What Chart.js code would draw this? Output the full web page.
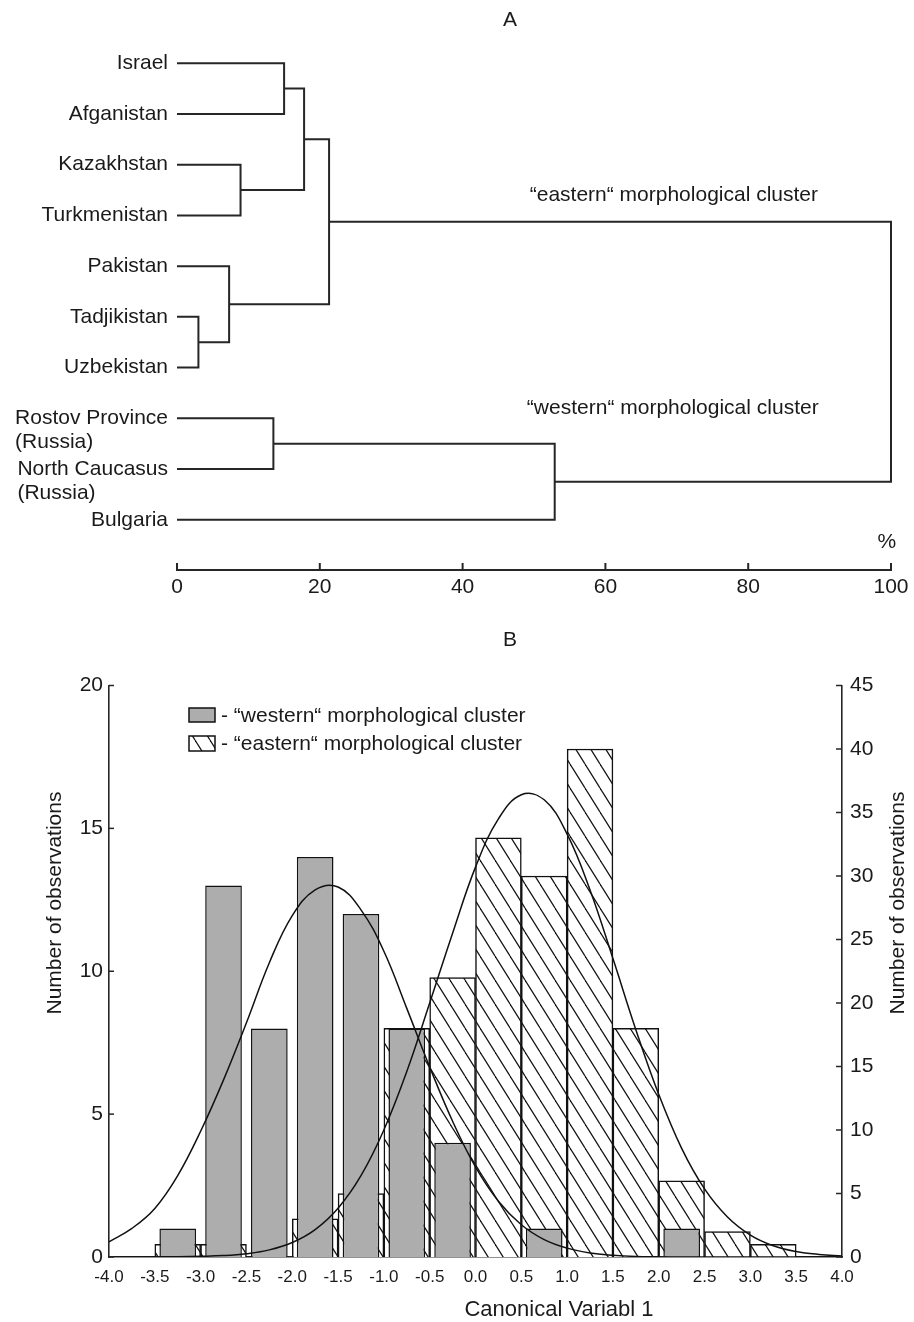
<!DOCTYPE html>
<html>
<head>
<meta charset="utf-8">
<script src="https://cdn.jsdelivr.net/npm/chart.js@4.4.0/dist/chart.umd.min.js"></script>
<style>
  html, body { margin: 0; padding: 0; background: #fff; }
  #wrap { position: relative; width: 914px; height: 1322px; }
  canvas { position: absolute; left: 0; }
  #chartA { top: 0; }
  #chartB { top: 620px; }
</style>
</head>
<body>
<div id="wrap">
  <canvas id="chartA" width="914" height="620"></canvas>
  <canvas id="chartB" width="914" height="702"></canvas>
</div>
<script>
// ---------- panel A: dendrogram ----------
const leaves = ['Israel', 'Afganistan', 'Kazakhstan', 'Turkmenistan', 'Pakistan',
  'Tadjikistan', 'Uzbekistan', 'Rostov Province', 'North Caucasus', 'Bulgaria'];
const leafNotes = ['', '', '', '', '', '', '', '(Russia)', '(Russia)', ''];
// every merge joins two nodes: leaves are 0..9, merge k becomes node 10 + k
const mergeA = [0, 2, 10, 5, 4, 12, 7, 16, 15];
const mergeB = [1, 3, 11, 6, 13, 14, 8, 9, 17];
const mergeLevel = [15.0, 8.9, 17.8, 3.0, 7.3, 21.3, 13.5, 52.9, 100];
const distTicks = [0, 20, 40, 60, 80, 100];

// ---------- panel B: histogram ----------
const binCenters = [-3.25, -2.75, -2.25, -1.75, -1.25, -0.75, -0.25, 0.25, 0.75, 1.25, 1.75, 2.25, 2.75, 3.25, 3.75];
const westernCounts = [1, 13, 8, 14, 12, 8, 4, 0, 1, 0, 0, 1, 0, 0, 0];
const easternCounts = [1, 1, 0, 3, 5, 18, 22, 33, 30, 40, 18, 6, 2, 1, 0];
const curveX = [-4.0, -3.75, -3.5, -3.25, -3.0, -2.75, -2.5, -2.25, -2.0, -1.75, -1.5, -1.25, -1.0, -0.75, -0.5, -0.25,
  0.0, 0.25, 0.5, 0.75, 1.0, 1.25, 1.5, 1.75, 2.0, 2.25, 2.5, 2.75, 3.0, 3.25, 3.5, 3.75, 4.0];
const westernCurve = [0.53, 1.0, 1.7, 2.85, 4.4, 6.2, 8.2, 10.3, 11.95, 12.85, 12.95, 12.15, 10.7, 8.7, 6.65, 4.75,
  3.15, 1.95, 1.13, 0.61, 0.31, 0.14, 0.06, 0.02, 0.01, 0, 0, 0, 0, 0, 0, 0, 0];
const easternCurve = [0, 0, 0.01, 0.02, 0.05, 0.11, 0.26, 0.56, 1.14, 2.16, 3.84, 6.4, 10.0, 14.6, 20.0, 25.5,
  30.7, 34.5, 36.4, 36.0, 33.3, 28.9, 23.5, 17.9, 12.8, 8.55, 5.36, 3.15, 1.73, 0.89, 0.43, 0.2, 0.08];

const fontFamily = "'Liberation Sans', Arial, sans-serif";
const ink = '#1a1a1a';
const lineInk = '#262626';
Chart.defaults.font.family = fontFamily;
Chart.defaults.color = ink;

// ---------- chart A ----------
const nodeY = leaves.map((_, i) => i);
const nodeH = leaves.map(() => 0);
const linkSets = [];
for (let k = 0; k < mergeA.length; k++) {
  const a = mergeA[k], b = mergeB[k], h = mergeLevel[k];
  linkSets.push({
    data: [
      { x: nodeH[a], y: nodeY[a] },
      { x: h, y: nodeY[a] },
      { x: h, y: nodeY[b] },
      { x: nodeH[b], y: nodeY[b] }
    ],
    showLine: true,
    borderColor: lineInk,
    borderWidth: 2,
    pointRadius: 0,
    tension: 0,
    clip: false
  });
  nodeY.push((nodeY[a] + nodeY[b]) / 2);
  nodeH.push(h);
}

const panelAText = {
  id: 'panelAText',
  afterDraw(chart) {
    const { ctx, chartArea, scales: { x, y } } = chart;
    ctx.save();
    ctx.fillStyle = ink;
    ctx.font = '21px ' + fontFamily;
    ctx.textBaseline = 'middle';
    ctx.textAlign = 'center';
    ctx.fillText('A', 510, 20);

    // leaf names
    const right = chartArea.left - 9;
    leaves.forEach((name, i) => {
      const py = y.getPixelForValue(i);
      ctx.textAlign = 'right';
      ctx.fillText(name, right, py);
      if (leafNotes[i]) {
        const w = ctx.measureText(name).width;
        ctx.textAlign = 'left';
        ctx.fillText(leafNotes[i], right - w, py + 24);
      }
    });

    // cluster captions
    ctx.textAlign = 'left';
    ctx.fillText('\u201Ceastern\u201C morphological cluster', x.getPixelForValue(49.4), y.getPixelForValue(2.6));
    ctx.fillText('\u201Cwestern\u201C morphological cluster', x.getPixelForValue(49.0), y.getPixelForValue(6.81));
    ctx.textAlign = 'center';
    ctx.fillText('%', x.getPixelForValue(99.4), y.getPixelForValue(9.45));

    // inward tick marks
    ctx.strokeStyle = lineInk;
    ctx.lineWidth = 2;
    distTicks.forEach(v => {
      const px = x.getPixelForValue(v);
      ctx.beginPath();
      ctx.moveTo(px, chartArea.bottom);
      ctx.lineTo(px, chartArea.bottom - 7);
      ctx.stroke();
    });
    ctx.restore();
  }
};

new Chart(document.getElementById('chartA'), {
  type: 'scatter',
  data: { datasets: linkSets },
  options: {
    responsive: false,
    animation: false,
    events: [],
    layout: { padding: { left: 177, right: 23, top: 12.5, bottom: 0 } },
    plugins: { legend: { display: false }, tooltip: { enabled: false } },
    scales: {
      x: {
        type: 'linear', min: 0, max: 100, position: 'bottom',
        afterBuildTicks: s => { s.ticks = distTicks.map(v => ({ value: v })); },
        ticks: { padding: 5, font: { size: 21 }, color: ink, maxRotation: 0 },
        grid: { display: false, drawTicks: false },
        border: { display: true, color: lineInk, width: 2 },
        afterFit: s => { s.height = 50; }
      },
      y: { type: 'linear', min: -1, max: 9.99, reverse: true, display: false }
    }
  },
  plugins: [panelAText]
});

// ---------- chart B ----------
const ctxB = document.getElementById('chartB').getContext('2d');
function makeHatch() {
  const c = document.createElement('canvas');
  c.width = 15; c.height = 24;
  const g = c.getContext('2d');
  g.fillStyle = '#fff';
  g.fillRect(0, 0, 15, 24);
  g.strokeStyle = '#111';
  g.lineWidth = 1.2;
  [-15, 0, 15].forEach(dx => {
    g.beginPath();
    g.moveTo(dx, 0);
    g.lineTo(dx + 15, 24);
    g.stroke();
  });
  return ctxB.createPattern(c, 'repeat');
}
const hatch = makeHatch();
const grayFill = '#adadad';

const panelBText = {
  id: 'panelBText',
  afterDraw(chart) {
    const { ctx, chartArea, scales: { yL, yR } } = chart;
    ctx.save();
    ctx.fillStyle = ink;
    ctx.font = '21px ' + fontFamily;
    ctx.textBaseline = 'middle';
    ctx.textAlign = 'center';
    ctx.fillText('B', 510, 20);

    // legend
    ctx.strokeStyle = '#111';
    ctx.lineWidth = 1.5;
    ctx.fillStyle = grayFill;
    ctx.fillRect(189, 88, 26, 14);
    ctx.strokeRect(189, 88, 26, 14);
    ctx.fillStyle = hatch;
    ctx.fillRect(189, 116, 26, 15);
    ctx.strokeRect(189, 116, 26, 15);
    ctx.fillStyle = ink;
    ctx.textAlign = 'left';
    ctx.fillText('- \u201Cwestern\u201C morphological cluster', 221, 96);
    ctx.fillText('- \u201Ceastern\u201C morphological cluster', 221, 124);

    // axis titles
    ctx.textAlign = 'center';
    ctx.font = '22px ' + fontFamily;
    ctx.fillText('Canonical Variabl 1', 559, 690);
    ctx.font = '21px ' + fontFamily;
    [[55, 283], [898, 283]].forEach(([tx, ty]) => {
      ctx.save();
      ctx.translate(tx, ty);
      ctx.rotate(-Math.PI / 2);
      ctx.fillText('Number of observations', 0, 0);
      ctx.restore();
    });

    // inward tick marks on both value axes
    ctx.strokeStyle = lineInk;
    ctx.lineWidth = 1.5;
    yL.ticks.forEach(t => {
      const py = yL.getPixelForValue(t.value);
      ctx.beginPath();
      ctx.moveTo(chartArea.left, py);
      ctx.lineTo(chartArea.left + 5, py);
      ctx.stroke();
    });
    yR.ticks.forEach(t => {
      const py = yR.getPixelForValue(t.value);
      ctx.beginPath();
      ctx.moveTo(chartArea.right, py);
      ctx.lineTo(chartArea.right - 6, py);
      ctx.stroke();
    });
    ctx.restore();
  }
};

const axisBorder = { display: true, color: lineInk, width: 1.6 };

new Chart(ctxB, {
  type: 'bar',
  data: {
    datasets: [
      {
        type: 'line',
        data: curveX.map((x, i) => ({ x, y: easternCurve[i] })),
        yAxisID: 'yR',
        borderColor: '#111', borderWidth: 1.5,
        pointRadius: 0, tension: 0.4, fill: false, order: 0
      },
      {
        type: 'line',
        data: curveX.map((x, i) => ({ x, y: westernCurve[i] })),
        yAxisID: 'yL',
        borderColor: '#111', borderWidth: 1.5,
        pointRadius: 0, tension: 0.4, fill: false, order: 0
      },
      {
        label: 'western',
        data: binCenters.map((x, i) => ({ x, y: westernCounts[i] })),
        yAxisID: 'yL',
        grouped: false,
        categoryPercentage: 0.8, barPercentage: 1,
        backgroundColor: grayFill, borderColor: '#111', borderWidth: 1.5,
        order: 1
      },
      {
        label: 'eastern',
        data: binCenters.map((x, i) => ({ x, y: easternCounts[i] })),
        yAxisID: 'yR',
        grouped: false,
        categoryPercentage: 1, barPercentage: 1,
        backgroundColor: hatch, borderColor: '#111', borderWidth: 1.5,
        order: 2
      }
    ]
  },
  options: {
    responsive: false,
    animation: false,
    events: [],
    layout: { padding: { top: 65.5, left: 0, right: 0, bottom: 0 } },
    plugins: { legend: { display: false }, tooltip: { enabled: false } },
    scales: {
      x: {
        type: 'linear', min: -4, max: 4, offset: false,
        ticks: { stepSize: 0.5, callback: v => v.toFixed(1), padding: 10, font: { size: 17 }, color: ink, maxRotation: 0, autoSkip: false },
        grid: { display: false, drawTicks: false },
        border: axisBorder,
        afterFit: s => { s.height = 65; }
      },
      yL: {
        type: 'linear', position: 'left', min: 0, max: 20,
        ticks: { stepSize: 5, padding: 6, font: { size: 21 }, color: ink },
        grid: { display: false, drawTicks: false },
        border: axisBorder,
        afterFit: s => { s.width = 109; }
      },
      yR: {
        type: 'linear', position: 'right', min: 0, max: 45,
        ticks: { stepSize: 5, padding: 8, font: { size: 21 }, color: ink },
        grid: { display: false, drawTicks: false },
        border: axisBorder,
        afterFit: s => { s.width = 72; }
      }
    }
  },
  plugins: [panelBText]
});
</script>
</body>
</html>
